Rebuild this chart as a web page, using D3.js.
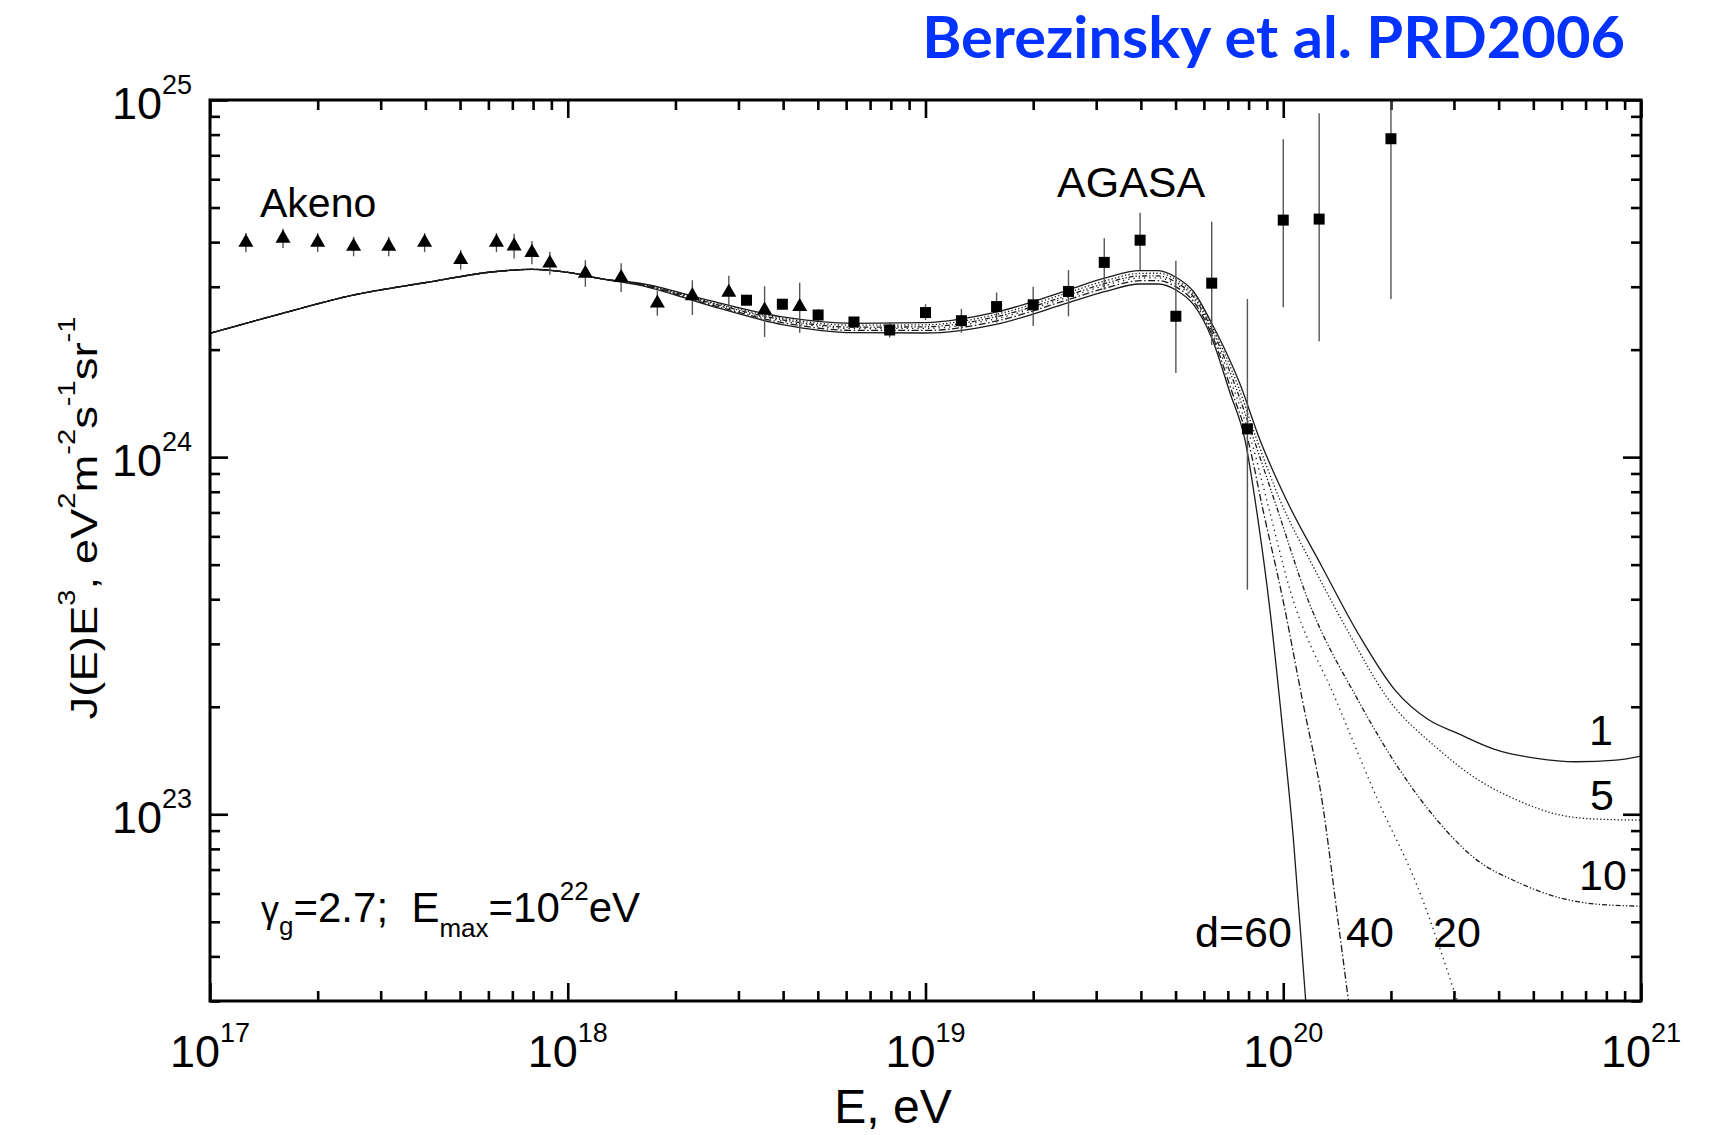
<!DOCTYPE html>
<html>
<head>
<meta charset="utf-8">
<title>Berezinsky et al. PRD2006</title>
<script src="https://cdn.jsdelivr.net/npm/d3@7/dist/d3.min.js"></script>
<style>
  html, body { margin: 0; padding: 0; background: #ffffff; }
  svg { display: block; }
  .lbl { font-family: "Liberation Sans", Arial, Helvetica, sans-serif; fill: #000; }
</style>
</head>
<body>
<svg id="chart" width="1722" height="1135"></svg>
<script>
// ---------------- data ----------------
// Akeno measurements (triangles): energy [eV], J(E)E^3 and error limits
const akenoE  = [1.26e17, 1.60e17, 2.00e17, 2.52e17, 3.16e17, 3.98e17, 5.02e17, 6.32e17, 7.08e17, 7.94e17, 8.91e17, 1.12e18, 1.41e18, 1.78e18, 2.23e18, 2.82e18, 3.55e18, 4.45e18];
const akenoJ  = [3.99e24, 4.10e24, 3.99e24, 3.89e24, 3.89e24, 3.99e24, 3.57e24, 3.99e24, 3.90e24, 3.74e24, 3.49e24, 3.27e24, 3.18e24, 2.70e24, 2.83e24, 2.89e24, 2.58e24, 2.64e24];
const akenoLo = [3.75e24, 3.85e24, 3.75e24, 3.65e24, 3.65e24, 3.75e24, 3.35e24, 3.75e24, 3.60e24, 3.47e24, 3.24e24, 3.00e24, 2.90e24, 2.49e24, 2.50e24, 2.64e24, 2.17e24, 2.23e24];
const akenoHi = [4.24e24, 4.36e24, 4.24e24, 4.14e24, 4.14e24, 4.24e24, 3.80e24, 4.24e24, 4.22e24, 4.03e24, 3.76e24, 3.56e24, 3.49e24, 2.93e24, 3.13e24, 3.22e24, 3.01e24, 3.08e24];

// AGASA measurements (squares)
const agasaE  = [3.16e18, 3.98e18, 5.01e18, 6.31e18, 7.94e18, 1.00e19, 1.26e19, 1.58e19, 2.00e19, 2.51e19, 3.16e19, 3.98e19, 5.01e19, 6.31e19, 7.94e19, 1.00e20, 1.26e20, 2.00e20];
const agasaJ  = [2.75e24, 2.68e24, 2.50e24, 2.39e24, 2.27e24, 2.54e24, 2.41e24, 2.64e24, 2.67e24, 2.91e24, 3.51e24, 4.05e24, 2.48e24, 3.07e24, 1.20e24, 4.61e24, 4.64e24, 7.79e24];
const agasaLo = [2.66e24, 2.59e24, 2.40e24, 2.30e24, 2.16e24, 2.42e24, 2.23e24, 2.38e24, 2.33e24, 2.48e24, 2.94e24, 3.34e24, 1.72e24, 2.06e24, 4.25e23, 2.63e24, 2.11e24, 2.77e24];
const agasaHi = [2.85e24, 2.77e24, 2.60e24, 2.47e24, 2.39e24, 2.68e24, 2.60e24, 2.89e24, 3.00e24, 3.34e24, 4.10e24, 4.83e24, 3.55e24, 4.56e24, 2.77e24, 7.76e24, 9.18e24, 1.00e25];

// Calculated spectra: shared low-energy part (all separations coincide there)
const lowEnergyPart = [[1e17, 2.222e24], [1.585e17, 2.524e24], [2.512e17, 2.843e24], [3.981e17, 3.078e24],
  [6.31e17, 3.310e24], [7.943e17, 3.357e24], [1e18, 3.292e24], [1.259e18, 3.15e24]];

// source separation d = 1 Mpc
const specD1 = [[1.585e18, 3.07e24], [2.512e18, 2.74e24], [3.981e18, 2.47e24], [6.31e18, 2.37e24], [1e19, 2.38e24],
  [1.585e19, 2.55e24], [2.512e19, 2.94e24], [3.162e19, 3.17e24], [3.981e19, 3.33e24], [4.467e19, 3.33e24],
  [5.012e19, 3.19e24], [5.623e19, 2.90e24], [6.31e19, 2.37e24], [7.57e19, 1.602e24], [8.61e19, 1.116e24],
  [1.021e20, 7.583e23], [1.283e20, 4.934e23], [1.618e20, 3.211e23], [2.053e20, 2.227e23], [2.556e20, 1.836e23],
  [3.06e20, 1.688e23], [3.96e20, 1.512e23], [5.104e20, 1.434e23], [6.58e20, 1.403e23], [8.515e20, 1.418e23],
  [1e21, 1.455e23]];
// d = 5 Mpc
const specD5 = [[1.585e18, 3.065e24], [2.512e18, 2.718e24], [3.981e18, 2.448e24], [6.31e18, 2.341e24], [1e19, 2.347e24],
  [1.585e19, 2.513e24], [2.512e19, 2.891e24], [3.162e19, 3.112e24], [3.981e19, 3.269e24], [4.467e19, 3.273e24],
  [5.012e19, 3.141e24], [5.623e19, 2.852e24], [6.31e19, 2.329e24], [7.475e19, 1.582e24], [8.445e19, 1.116e24],
  [9.793e19, 7.583e23], [1.227e20, 4.830e23], [1.537e20, 3.176e23], [1.938e20, 2.143e23], [2.69e20, 1.532e23],
  [3.48e20, 1.255e23], [4.502e20, 1.096e23], [5.79e20, 1.001e23], [7.485e20, 9.695e22], [1e21, 9.63e22]];
// d = 10 Mpc
const specD10 = [[1.585e18, 3.057e24], [2.512e18, 2.701e24], [3.981e18, 2.424e24], [6.31e18, 2.312e24], [1e19, 2.317e24],
  [1.585e19, 2.475e24], [2.512e19, 2.843e24], [3.162e19, 3.059e24], [3.981e19, 3.215e24], [4.467e19, 3.217e24],
  [5.012e19, 3.089e24], [5.623e19, 2.804e24], [6.31e19, 2.284e24], [7.38e19, 1.562e24], [8.29e19, 1.116e24],
  [9.544e19, 7.342e23], [1.173e20, 3.98e23], [1.618e20, 2.088e23], [2.088e20, 1.358e23], [2.69e20, 9.633e22],
  [3.48e20, 7.44e22], [4.494e20, 6.47e22], [5.79e20, 5.875e22], [7.485e20, 5.604e22], [1e21, 5.53e22]];
// d = 20 Mpc
const specD20 = [[1.585e18, 3.051e24], [2.512e18, 2.687e24], [3.981e18, 2.405e24], [6.31e18, 2.292e24], [1e19, 2.293e24],
  [1.585e19, 2.445e24], [2.512e19, 2.808e24], [3.162e19, 3.019e24], [3.981e19, 3.174e24], [4.467e19, 3.176e24],
  [5.012e19, 3.049e24], [5.623e19, 2.768e24], [6.31e19, 2.250e24], [7.285e19, 1.542e24], [8.13e19, 1.116e24],
  [9.066e19, 7.342e23], [1.0445e20, 4.245e23], [1.4045e20, 2.088e23], [1.838e20, 1.096e23], [2.373e20, 6.27e22],
  [3.06e20, 3.02e22], [3.327e20, 2.33e22]];
// d = 40 Mpc
const specD40 = [[1.585e18, 3.043e24], [2.512e18, 2.670e24], [3.981e18, 2.381e24], [6.31e18, 2.263e24], [1e19, 2.263e24],
  [1.585e19, 2.407e24], [2.512e19, 2.763e24], [3.162e19, 2.968e24], [3.981e19, 3.119e24], [4.467e19, 3.121e24],
  [5.012e19, 2.998e24], [5.623e19, 2.721e24], [6.31e19, 2.207e24], [7.19e19, 1.522e24], [7.97e19, 1.116e24],
  [8.779e19, 7.109e23], [9.984e19, 3.98e23], [1.131e20, 2.088e23], [1.283e20, 1.096e23], [1.422e20, 5.055e22],
  [1.520e20, 3.02e22], [1.557e20, 2.487e22]];
// d = 60 Mpc
const specD60 = [[1.585e18, 3.033e24], [2.512e18, 2.650e24], [3.981e18, 2.351e24], [6.31e18, 2.231e24], [1e19, 2.226e24],
  [1.585e19, 2.359e24], [2.512e19, 2.707e24], [3.162e19, 2.905e24], [3.981e19, 3.053e24], [4.467e19, 3.053e24],
  [5.012e19, 2.938e24], [5.623e19, 2.667e24], [6.31e19, 2.156e24], [7.10e19, 1.512e24], [7.82e19, 1.116e24],
  [8.50e19, 6.67e23], [9.18e19, 3.73e23], [9.90e19, 1.84e23], [1.068e20, 8.469e22], [1.155e20, 3.02e22],
  [1.192e20, 2.05e22]];

// tick decades
const xTickExps = [17, 18, 19, 20, 21];
const yTickExps = [23, 24, 25];

// ---------------- layout ----------------
const plotL = 210, plotR = 1641, plotT = 100, plotB = 1001;
const svg = d3.select("#chart");
svg.append("rect").attr("width", 1722).attr("height", 1135).attr("fill", "#fff");

const x = d3.scaleLog().domain([1e17, 1e21]).range([plotL, plotR]);
const y = d3.scaleLog().domain([3e22, 1e25]).range([plotB, plotT]);

svg.append("defs").append("clipPath").attr("id", "plotArea")
  .append("rect").attr("x", plotL).attr("y", plotT)
  .attr("width", plotR - plotL).attr("height", plotB - plotT);

// ---------------- ticks (inward, on all four sides) ----------------
const isDecade = v => Math.abs(Math.log10(v) - Math.round(Math.log10(v))) < 1e-9;
const xMajor = x.ticks().filter(isDecade), xMinor = x.ticks().filter(v => !isDecade(v));
const yMajor = y.ticks().filter(isDecade), yMinor = y.ticks().filter(v => !isDecade(v));

function tickSet(axisFn, scale, values, len, transform) {
  const g = svg.append("g").attr("transform", transform)
    .call(axisFn(scale).tickValues(values).tickSize(-len).tickFormat(""));
  g.select(".domain").remove();
  g.selectAll("line").attr("stroke", "#000").attr("stroke-width", 2.6);
}
tickSet(d3.axisBottom, x, xMinor, 10, `translate(0,${plotB})`);
tickSet(d3.axisBottom, x, xMajor, 18, `translate(0,${plotB})`);
tickSet(d3.axisTop, x, xMinor, 10, `translate(0,${plotT})`);
tickSet(d3.axisTop, x, xMajor, 18, `translate(0,${plotT})`);
tickSet(d3.axisLeft, y, yMinor, 10, `translate(${plotL},0)`);
tickSet(d3.axisLeft, y, yMajor, 18, `translate(${plotL},0)`);
tickSet(d3.axisRight, y, yMinor, 10, `translate(${plotR},0)`);
tickSet(d3.axisRight, y, yMajor, 18, `translate(${plotR},0)`);

// ---------------- model curves ----------------
const spectra = [
  { pts: specD1,  dash: null },
  { pts: specD5,  dash: "1.3 2.2" },
  { pts: specD10, dash: "5 2 1.3 2 1.3 2" },
  { pts: specD20, dash: "1.3 4" },
  { pts: specD40, dash: "7 2.5 1.5 2.5" },
  { pts: specD60, dash: null }
];
const line = d3.line().x(d => x(d[0])).y(d => y(d[1])).curve(d3.curveMonotoneX);
const curveG = svg.append("g").attr("clip-path", "url(#plotArea)");
spectra.forEach(s => {
  curveG.append("path")
    .attr("d", line(lowEnergyPart.concat(s.pts)))
    .attr("fill", "none").attr("stroke", "#1a1a1a").attr("stroke-width", 1.3)
    .attr("stroke-dasharray", s.dash);
});

// ---------------- data points ----------------
const dataG = svg.append("g").attr("clip-path", "url(#plotArea)");
function errorBars(E, lo, hi) {
  dataG.selectAll(null).data(E.map((e, i) => [e, lo[i], hi[i]])).enter().append("line")
    .attr("x1", d => x(d[0])).attr("x2", d => x(d[0]))
    .attr("y1", d => y(d[1])).attr("y2", d => y(d[2]))
    .attr("stroke", "#555").attr("stroke-width", 1.4);
}
errorBars(akenoE, akenoLo, akenoHi);
errorBars(agasaE, agasaLo, agasaHi);

const tri = d3.symbol().type(d3.symbolTriangle).size(98);
dataG.selectAll(null).data(akenoE.map((e, i) => [e, akenoJ[i]])).enter().append("path")
  .attr("d", tri).attr("fill", "#000")
  .attr("transform", d => `translate(${x(d[0])},${y(d[1])})`);

const sq = d3.symbol().type(d3.symbolSquare).size(121);
dataG.selectAll(null).data(agasaE.map((e, i) => [e, agasaJ[i]])).enter().append("path")
  .attr("d", sq).attr("fill", "#000")
  .attr("transform", d => `translate(${x(d[0])},${y(d[1])})`);

// frame
svg.append("rect").attr("x", plotL).attr("y", plotT)
  .attr("width", plotR - plotL).attr("height", plotB - plotT)
  .attr("fill", "none").attr("stroke", "#000").attr("stroke-width", 3);

// ---------------- tick labels ----------------
xTickExps.forEach(e => {
  const t = svg.append("text").attr("class", "lbl")
    .attr("x", x(Math.pow(10, e))).attr("y", 1067)
    .attr("text-anchor", "middle").style("font-size", "45px");
  t.append("tspan").text("10");
  t.append("tspan").attr("dy", -25).style("font-size", "27px").text(e);
});
yTickExps.forEach(e => {
  const t = svg.append("text").attr("class", "lbl")
    .attr("x", 192).attr("y", y(Math.pow(10, e)) + 19)
    .attr("text-anchor", "end").style("font-size", "45px");
  t.append("tspan").text("10");
  t.append("tspan").attr("dy", -25).style("font-size", "27px").text(e);
});

// ---------------- axis titles ----------------
svg.append("text").attr("class", "lbl")
  .attr("x", 893).attr("y", 1123).attr("text-anchor", "middle")
  .style("font-size", "48px").text("E, eV");

const yTitle = svg.append("text").attr("class", "lbl")
  .attr("text-anchor", "middle").style("font-size", "36px");
[["J(E)E", 0], ["3", 1], [", eV", 0], ["2", 1], ["m", 0], ["-2", 1], ["s", 0], ["-1", 1], ["sr", 0], ["-1", 1]]
  .forEach((p, i, arr) => {
    const prevSup = i > 0 && arr[i - 1][1] === 1;
    const ts = yTitle.append("tspan").text(p[0]);
    if (p[1] === 1) ts.attr("dy", -22).style("font-size", "23px");
    else if (prevSup) ts.attr("dy", 22);
  });
const yLen = yTitle.node().getBBox().width;
yTitle.attr("transform", `translate(97,518) rotate(-90) scale(${403 / yLen},1)`);

// ---------------- annotations ----------------
svg.append("text").attr("class", "lbl").attr("x", 260).attr("y", 217)
  .style("font-size", "41px").text("Akeno");
svg.append("text").attr("class", "lbl").attr("x", 1057).attr("y", 197)
  .style("font-size", "43px").text("AGASA");

const curveLabels = [
  { t: "1", x: 1589, y: 745 },
  { t: "5", x: 1590, y: 810 },
  { t: "10", x: 1579, y: 890 },
  { t: "d=60", x: 1195, y: 947 },
  { t: "40", x: 1346, y: 947 },
  { t: "20", x: 1433, y: 947 }
];
curveLabels.forEach(c => svg.append("text").attr("class", "lbl")
  .attr("x", c.x).attr("y", c.y).style("font-size", "43px").text(c.t));

const ann = svg.append("text").attr("class", "lbl")
  .attr("x", 261).attr("y", 922).style("font-size", "42px");
ann.append("tspan").style("font-size", "36px").text("\u03b3");
ann.append("tspan").attr("dy", 13).style("font-size", "26px").text("g");
ann.append("tspan").attr("dy", -13).text("=2.7;\u00a0\u00a0E");
ann.append("tspan").attr("dy", 15).style("font-size", "26px").text("max");
ann.append("tspan").attr("dy", -15).text("=10");
ann.append("tspan").attr("dy", -22).style("font-size", "26px").text("22");
ann.append("tspan").attr("dy", 22).text("eV");

// ---------------- citation title ----------------
const title = svg.append("text")
  .attr("text-anchor", "end")
  .style("font-family", "Lato, 'Open Sans', sans-serif")
  .style("font-weight", "700").style("font-size", "58px")
  .attr("fill", "#0433ff").text("Berezinsky et al. PRD2006");
const tLen = title.node().getBBox().width;
title.attr("transform", `translate(1625,58) scale(${703 / tLen},1)`);
</script>
</body>
</html>
